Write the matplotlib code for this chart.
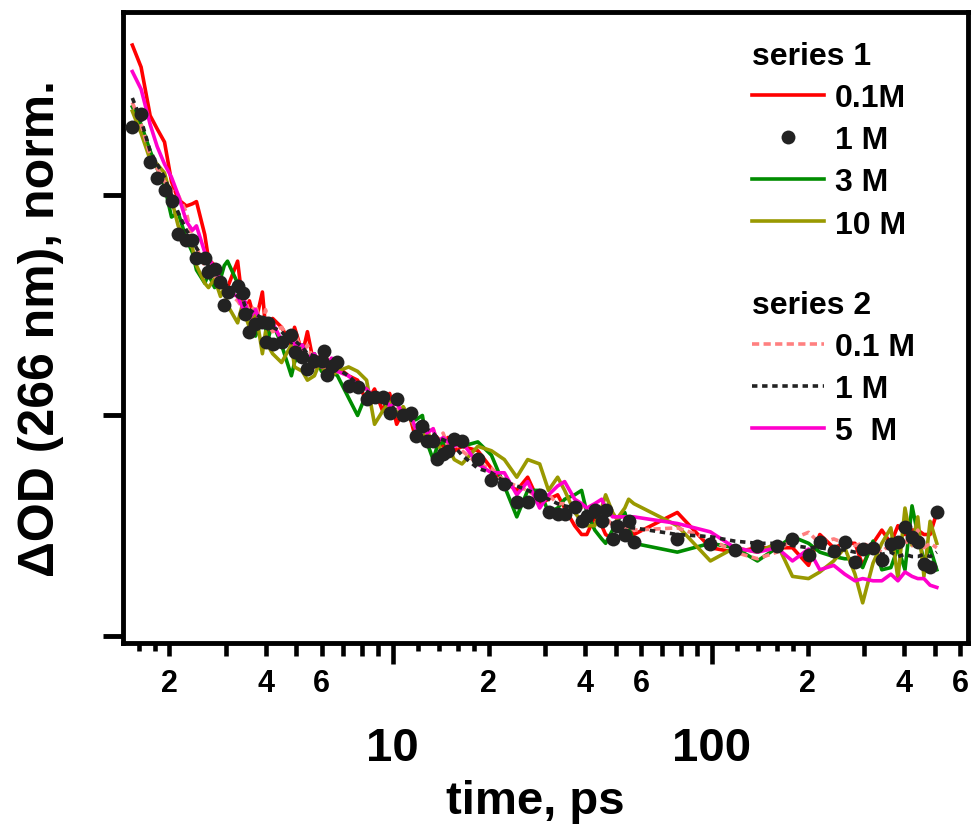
import matplotlib
matplotlib.use("Agg")
import matplotlib.pyplot as plt
from matplotlib.lines import Line2D

plt.rcParams['font.family'] = ['Liberation Sans', 'DejaVu Sans']
plt.rcParams['font.weight'] = 'bold'

# delay times (ps), shared by all traces
t = [1.53, 1.63, 1.74, 1.83, 1.93, 2.03, 2.13, 2.26, 2.36, 2.43,
     2.58, 2.65, 2.77, 2.89, 2.97, 3.04, 3.27, 3.41, 3.44, 3.56,
     3.72, 3.91, 4.00, 4.06, 4.21, 4.49, 4.82, 4.93, 5.22, 5.41,
     5.69, 5.99, 6.08, 6.21, 6.44, 6.72, 7.28, 7.77, 8.29, 8.78,
     9.31, 9.79, 10.3, 10.8, 11.4, 11.8, 12.4, 12.8, 13.4, 13.8,
     14.4, 14.9, 15.6, 16.5, 18.5, 20.4, 22.4, 24.5, 26.5, 28.9,
     30.8, 32.9, 34.6, 37.2, 39.1, 40.6, 43.0, 45.2, 46.5, 48.9,
     50.4, 53.4, 54.9, 57.0, 78, 99, 118, 139, 160, 179,
     201, 218, 241, 261, 281, 297, 320, 341, 364, 383,
     403, 424, 442, 462, 483, 507]

# series 1
s1_01M = [1.34, 1.29, 1.18, 1.15, 1.12, 1.03, 0.99, 0.975, 0.98, 0.985,
          0.91, 0.855, 0.84, 0.815, 0.80, 0.79, 0.85, 0.74, 0.73, 0.76,
          0.71, 0.78, 0.70, 0.68, 0.72, 0.70, 0.66, 0.70, 0.64, 0.69,
          0.61, 0.64, 0.59, 0.63, 0.60, 0.61, 0.59, 0.58, 0.53, 0.56,
          0.51, 0.55, 0.48, 0.51, 0.49, 0.45, 0.48, 0.46, 0.44, 0.45,
          0.43, 0.45, 0.42, 0.43, 0.42, 0.38, 0.35, 0.33, 0.36, 0.30,
          0.31, 0.32, 0.29, 0.25, 0.23, 0.23, 0.27, 0.25, 0.23, 0.22,
          0.215, 0.24, 0.24, 0.23, 0.28, 0.20, 0.19, 0.20, 0.20, 0.20,
          0.16, 0.23, 0.20, 0.21, 0.21, 0.16, 0.21, 0.24, 0.21, 0.25,
          0.23, 0.24, 0.24, 0.23, 0.23, 0.28]
s1_1M = [1.154, 1.184, 1.075, 1.039, 1.011, 0.986, 0.912, 0.898, 0.898, 0.857,
         0.857, 0.825, 0.832, 0.803, 0.751, 0.780, 0.794, 0.778, 0.730, 0.689,
         0.707, 0.712, 0.667, 0.710, 0.662, 0.667, 0.683, 0.644, 0.633, 0.605,
         0.624, 0.624, 0.646, 0.592, 0.612, 0.621, 0.567, 0.565, 0.537, 0.542,
         0.542, 0.506, 0.537, 0.501, 0.506, 0.454, 0.476, 0.442, 0.442, 0.401,
         0.413, 0.420, 0.447, 0.442, 0.401, 0.354, 0.345, 0.304, 0.304, 0.320,
         0.281, 0.277, 0.277, 0.293, 0.261, 0.272, 0.286, 0.261, 0.286, 0.220,
         0.249, 0.229, 0.261, 0.213, 0.220, 0.209, 0.195, 0.204, 0.204, 0.220,
         0.184, 0.213, 0.193, 0.213, 0.168, 0.197, 0.200, 0.172, 0.209, 0.213,
         0.247, 0.224, 0.213, 0.163, 0.156, 0.281]
s1_3M = [1.20, 1.16, 1.10, 1.06, 1.02, 0.95, 0.96, 0.90, 0.87, 0.83,
         0.80, 0.82, 0.79, 0.81, 0.84, 0.85, 0.80, 0.77, 0.74, 0.73,
         0.68, 0.72, 0.70, 0.67, 0.71, 0.66, 0.59, 0.62, 0.66, 0.63,
         0.64, 0.60, 0.62, 0.61, 0.60, 0.59, 0.54, 0.50, 0.55, 0.53,
         0.54, 0.50, 0.51, 0.49, 0.50, 0.49, 0.50, 0.44, 0.40, 0.43,
         0.44, 0.43, 0.44, 0.43, 0.44, 0.41, 0.34, 0.27, 0.33, 0.33,
         0.28, 0.29, 0.31, 0.32, 0.33, 0.28, 0.24, 0.22, 0.21, 0.24,
         0.26, 0.28, 0.25, 0.21, 0.19, 0.21, 0.20, 0.17, 0.20, 0.225,
         0.21, 0.19, 0.18, 0.175, 0.175, 0.155, 0.215, 0.15, 0.155, 0.20,
         0.15, 0.295, 0.23, 0.17, 0.20, 0.15]
s1_10M = [1.19, 1.14, 1.08, 1.07, 1.05, 0.99, 0.93, 0.90, 0.88, 0.84,
          0.80, 0.79, 0.81, 0.77, 0.79, 0.75, 0.71, 0.76, 0.73, 0.70,
          0.74, 0.64, 0.69, 0.66, 0.64, 0.62, 0.66, 0.61, 0.60, 0.58,
          0.59, 0.63, 0.60, 0.62, 0.59, 0.60, 0.61, 0.60, 0.58, 0.48,
          0.51, 0.53, 0.50, 0.52, 0.49, 0.47, 0.44, 0.47, 0.43, 0.44,
          0.41, 0.43, 0.40, 0.39, 0.43, 0.42, 0.40, 0.36, 0.40, 0.39,
          0.33, 0.36, 0.33, 0.28, 0.26, 0.25, 0.25, 0.29, 0.32, 0.28,
          0.265, 0.29, 0.31, 0.30, 0.25, 0.17, 0.20, 0.19, 0.21, 0.135,
          0.13, 0.145, 0.17, 0.20, 0.14, 0.075, 0.165, 0.21, 0.245, 0.13,
          0.29, 0.205, 0.27, 0.135, 0.26, 0.21]

# series 2
s2_01M = [1.21, 1.16, 1.09, 1.06, 1.03, 1.01, 1.00, 0.96, 0.90, 0.88,
          0.84, 0.83, 0.82, 0.79, 0.81, 0.78, 0.76, 0.74, 0.77, 0.73,
          0.75, 0.70, 0.74, 0.71, 0.69, 0.70, 0.67, 0.69, 0.64, 0.66,
          0.62, 0.64, 0.61, 0.63, 0.62, 0.60, 0.59, 0.56, 0.56, 0.53,
          0.55, 0.52, 0.52, 0.50, 0.50, 0.47, 0.48, 0.46, 0.47, 0.44,
          0.46, 0.43, 0.44, 0.42, 0.39, 0.38, 0.35, 0.34, 0.33, 0.31,
          0.32, 0.30, 0.30, 0.28, 0.29, 0.27, 0.28, 0.26, 0.27, 0.25,
          0.26, 0.24, 0.25, 0.24, 0.245, 0.22, 0.19, 0.175, 0.19, 0.22,
          0.235, 0.21, 0.22, 0.21, 0.205, 0.21, 0.20, 0.19, 0.21, 0.20,
          0.215, 0.205, 0.24, 0.20, 0.21, 0.20]
s2_1M = [1.22, 1.17, 1.10, 1.07, 1.04, 1.00, 0.96, 0.92, 0.90, 0.88,
         0.85, 0.84, 0.82, 0.81, 0.79, 0.80, 0.77, 0.76, 0.75, 0.74,
         0.73, 0.72, 0.715, 0.705, 0.70, 0.69, 0.665, 0.67, 0.655, 0.64,
         0.635, 0.63, 0.62, 0.625, 0.61, 0.605, 0.59, 0.57, 0.555, 0.545,
         0.53, 0.525, 0.51, 0.505, 0.49, 0.485, 0.47, 0.47, 0.46, 0.45,
         0.445, 0.44, 0.43, 0.41, 0.38, 0.37, 0.35, 0.34, 0.33, 0.32,
         0.31, 0.30, 0.295, 0.29, 0.28, 0.275, 0.27, 0.265, 0.26, 0.255,
         0.25, 0.25, 0.245, 0.245, 0.23, 0.225, 0.215, 0.21, 0.21, 0.205,
         0.20, 0.20, 0.195, 0.195, 0.19, 0.19, 0.195, 0.185, 0.19, 0.18,
         0.185, 0.18, 0.18, 0.185, 0.18, 0.19]
s2_5M = [1.28, 1.24, 1.16, 1.11, 1.07, 1.04, 1.00, 0.94, 0.92, 0.93,
         0.87, 0.86, 0.83, 0.81, 0.80, 0.78, 0.77, 0.74, 0.76, 0.72,
         0.74, 0.70, 0.72, 0.70, 0.71, 0.67, 0.69, 0.66, 0.66, 0.63,
         0.64, 0.61, 0.63, 0.61, 0.63, 0.60, 0.59, 0.57, 0.56, 0.54,
         0.55, 0.52, 0.53, 0.50, 0.50, 0.47, 0.48, 0.46, 0.47, 0.44,
         0.45, 0.44, 0.43, 0.44, 0.39, 0.37, 0.37, 0.32, 0.35, 0.29,
         0.32, 0.34, 0.35, 0.31, 0.30, 0.29, 0.30, 0.31, 0.29, 0.27,
         0.27, 0.27, 0.27, 0.27, 0.255, 0.236, 0.20, 0.19, 0.20, 0.17,
         0.197, 0.15, 0.16, 0.14, 0.125, 0.13, 0.125, 0.125, 0.14, 0.125,
         0.145, 0.135, 0.13, 0.13, 0.115, 0.11]

# x ticks: labelled decades, labelled 2..9 marks, short in-between marks
major_ticks = [10, 100]
major_labels = ['10', '100']
minor_ticks = [2, 3, 4, 5, 6, 7, 8, 9,
               20, 30, 40, 50, 60, 70, 80, 90,
               200, 300, 400, 500, 600]
minor_labels = ['2', '', '4', '', '6', '', '', '',
                '2', '', '4', '', '6', '', '', '',
                '2', '', '4', '', '6']
small_ticks = [1.6, 1.8, 12, 14, 16, 18, 120, 140, 160, 180]

RED = '#ff0000'
GREEN = '#008c00'
OLIVE = '#999900'
SALMON = '#ff8080'
DARK = '#222222'
MAGENTA = '#ff00cc'

fig = plt.figure(figsize=(9.72, 8.29), dpi=100)
ax = fig.add_axes([0.1265, 0.2232, 0.8694, 0.7611])

lw = 2.6
dash_salmon = (0, (2, 1.2))
dash_dark = (0, (1.5, 1.3))
ax.plot(t, s1_01M, color=RED, lw=lw, zorder=2)
ax.plot(t, s1_3M, color=GREEN, lw=lw, zorder=2)
ax.plot(t, s1_10M, color=OLIVE, lw=lw, zorder=2)
ax.plot(t, s2_01M, color=SALMON, lw=lw, ls=dash_salmon, zorder=3)
ax.plot(t, s2_5M, color=MAGENTA, lw=lw, zorder=3)
ax.plot(t, s2_1M, color=DARK, lw=lw, ls=dash_dark, zorder=4)
ax.plot(t, s1_1M, 'o', color=DARK, ms=10, mec='none', zorder=5)

ax.set_xscale('log')
ax.set_xlim(1.43, 635)
ax.set_ylim(-0.016, 1.415)

ax.set_xticks(major_ticks)
ax.set_xticklabels(major_labels, fontsize=34, fontweight='bold')
ax.set_xticks(minor_ticks, minor=True)
ax.set_xticklabels(minor_labels, minor=True, fontsize=22, fontweight='bold')
ax.tick_params(axis='x', which='major', direction='out', length=15, width=3.3, pad=45)
ax.tick_params(axis='x', which='minor', direction='out', length=9, width=3.3, pad=9)
ax.set_yticks([0, 0.5, 1.0])
ax.set_yticklabels([])
ax.tick_params(axis='y', direction='out', length=14.5, width=3.5)
ax.tick_params(top=False, right=False)
for sp in ax.spines.values():
    sp.set_linewidth(3.5)

# third level of short ticks on a twin axis
ax_s = ax.twiny()
ax_s.set_xscale('log')
ax_s.set_xlim(ax.get_xlim())
ax_s.xaxis.set_ticks_position('bottom')
ax_s.set_xticks(small_ticks)
ax_s.set_xticklabels([])
ax_s.xaxis.set_minor_locator(plt.NullLocator())
ax_s.tick_params(axis='x', direction='out', length=5.5, width=3.3)
for sp in ax_s.spines.values():
    sp.set_visible(False)

ax.set_xlabel('time, ps', fontsize=34, fontweight='bold')
ax.xaxis.set_label_coords(0.488, -0.215)
ax.set_ylabel('ΔOD (266 nm), norm.', fontsize=36, fontweight='bold')
ax.yaxis.set_label_coords(-0.07, 0.5)

h1 = [Line2D([], [], color=RED, lw=lw),
      Line2D([], [], ls='none', marker='o', color=DARK, ms=10, mec='none'),
      Line2D([], [], color=GREEN, lw=lw),
      Line2D([], [], color=OLIVE, lw=lw)]
h2 = [Line2D([], [], color=SALMON, lw=lw, ls=dash_salmon),
      Line2D([], [], color=DARK, lw=lw, ls=dash_dark),
      Line2D([], [], color=MAGENTA, lw=lw)]

leg_kw = dict(frameon=False, loc='upper left', handlelength=2.25, handletextpad=0.35,
              labelspacing=0.38, borderpad=0, borderaxespad=0,
              prop={'size': 23, 'weight': 'bold'}, alignment='left')
leg1 = ax_s.legend(h1, ['0.1M', '1 M', '3 M', '10 M'], title='series 1',
                   bbox_to_anchor=(752 / 972, 1 - 42 / 829), bbox_transform=fig.transFigure,
                   **leg_kw)
leg1.get_title().set_fontsize(23)
leg1.get_title().set_fontweight('bold')
ax_s.add_artist(leg1)
leg2 = ax_s.legend(h2, ['0.1 M', '1 M', '5  M'], title='series 2',
                   bbox_to_anchor=(752 / 972, 1 - 291 / 829), bbox_transform=fig.transFigure,
                   **leg_kw)
leg2.get_title().set_fontsize(23)
leg2.get_title().set_fontweight('bold')

fig.savefig('out.png', dpi=100)
